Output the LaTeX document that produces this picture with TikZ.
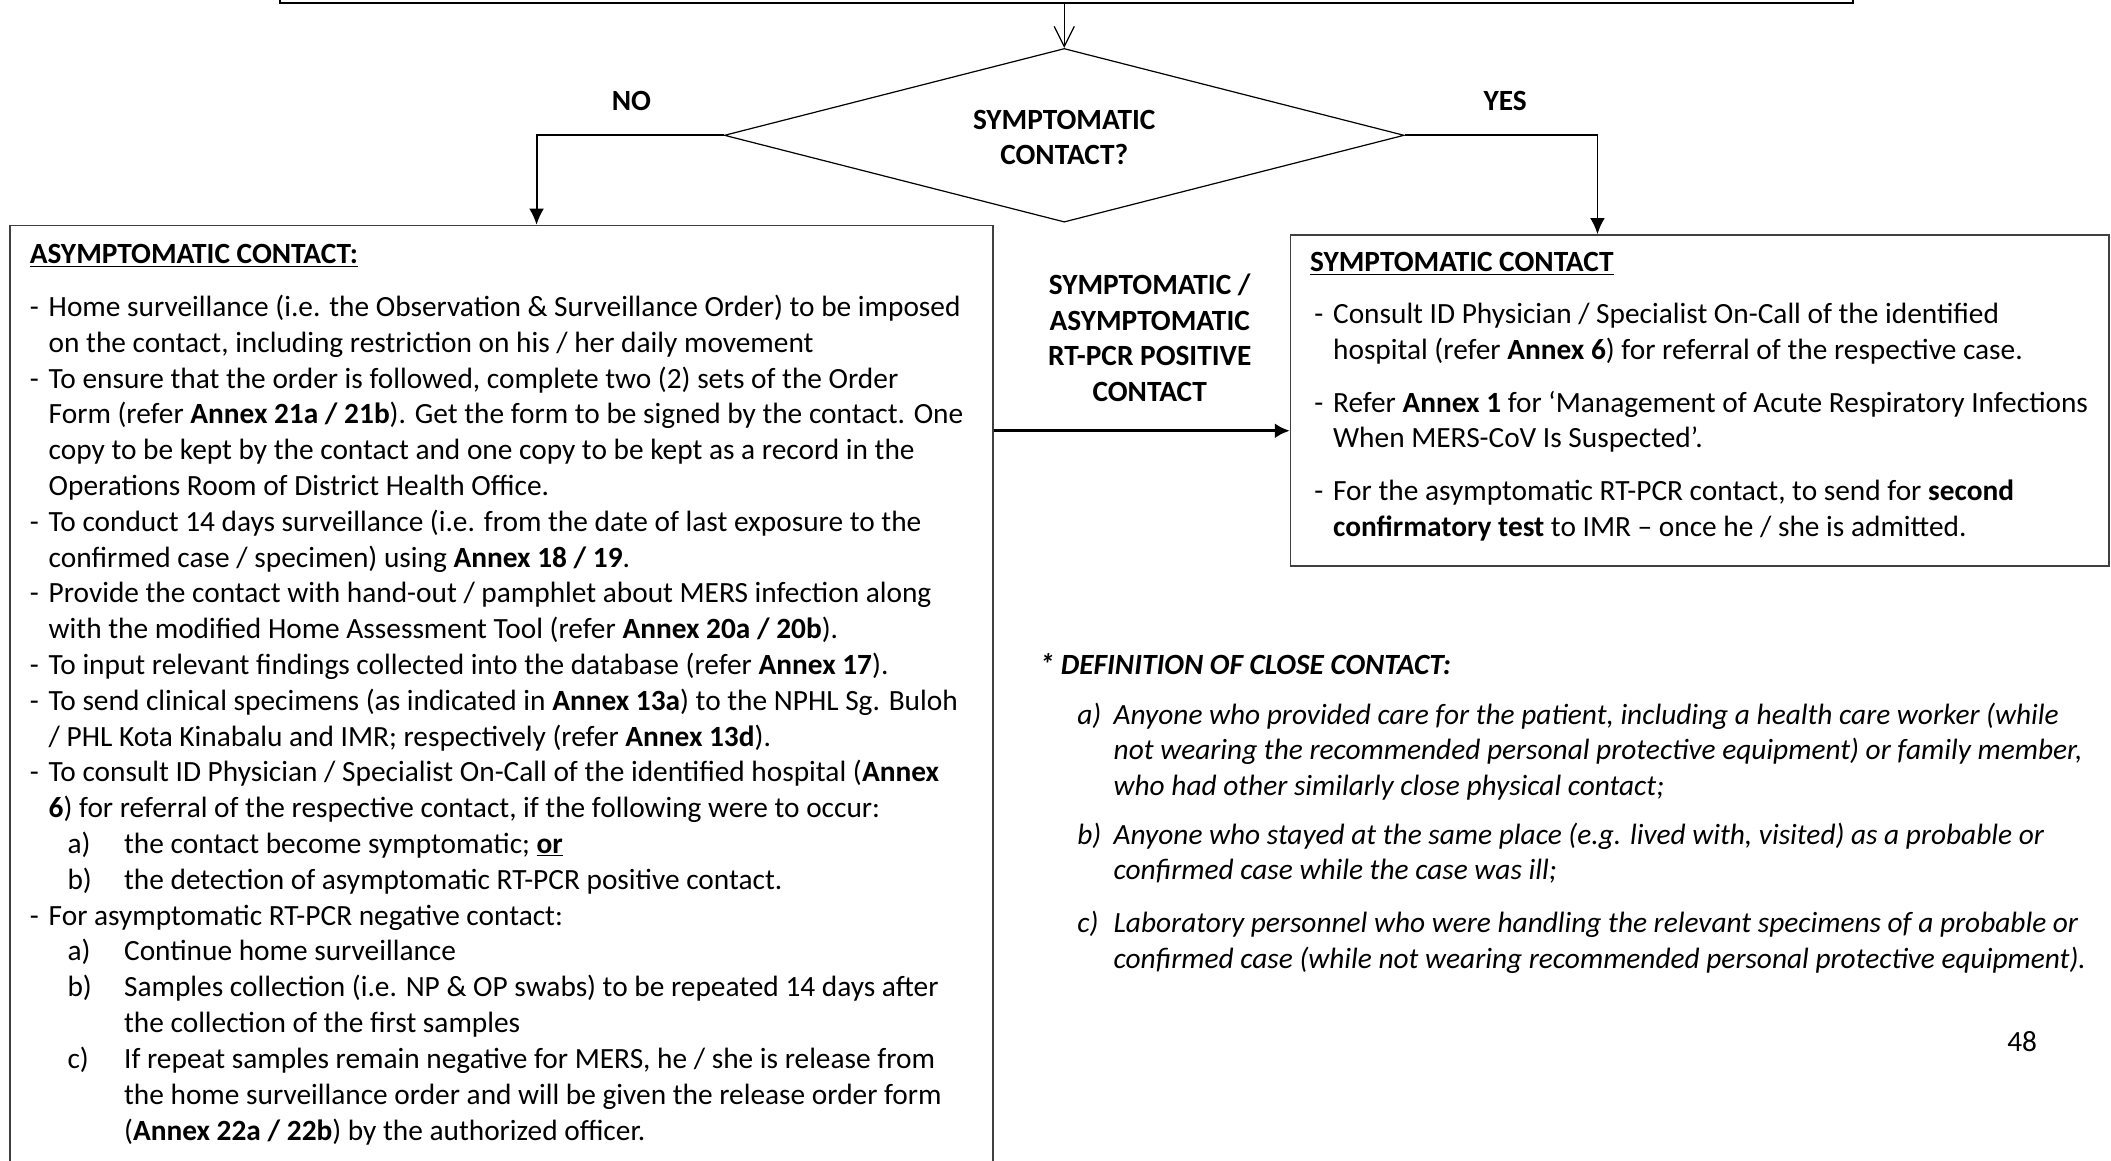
\documentclass[tikz,border=0pt]{standalone}
\usepackage{fontspec}
\setmainfont{Carlito}
\usetikzlibrary{shapes.geometric,arrows.meta}

% text sizes
\newcommand\bodyfont{\fontsize{21.8}{26.6}\selectfont}
\newcommand\defsfont{\fontsize{21.8}{26}\selectfont}
\newcommand\labelfont{\fontsize{21.8}{26}\selectfont\bfseries}
\newcommand\midfont{\fontsize{21.8}{26.5}\selectfont\bfseries}

% list helpers (lines are broken by hand; later lines hang under the text)
\newcommand\dashline[1]{\par\hangindent=14pt\hangafter=1\makebox[14pt][l]{-}#1}
\newcommand\letline[2]{\par\hangindent=70pt\hangafter=1\hspace*{28pt}\makebox[42pt][l]{#1}#2}
\newcommand\defline[2]{\par\hangindent=27pt\hangafter=1\makebox[27pt][l]{#1}#2}

\begin{document}
\begin{tikzpicture}[x=1pt,y=-1pt,
  boxframe/.style={draw=black!75, line width=1.1pt, inner sep=0pt},
  flowarrow/.style={line width=1.4pt, -{Latex[length=12pt,width=11pt]}},
  midarrow/.style={line width=2pt, -{Latex[length=11pt,width=11pt]}},
  toparrow/.style={line width=1.1pt, -{Straight Barb[length=15pt,width=15pt,line width=0.9pt]}},
  txt/.style={inner sep=0pt, font=\bodyfont}]

\useasboundingbox (0,0) rectangle (1568,862);
\clip (0,0) rectangle (1568,862);

% previous step (only its lower edge lies on the page)
\node[draw, line width=1.5pt, minimum width=1168pt, minimum height=80pt,
      anchor=south, inner sep=0pt] (topbox) at (792,3) {};

% decision
\node[diamond, draw, line width=0.9pt, aspect=3.9, minimum width=505pt,
      minimum height=129pt, inner sep=0pt] (dec) at (790.5,100.5) {};
\node[align=center, font=\labelfont, inner sep=0pt] (dectext) at (790.5,102) {SYMPTOMATIC\\CONTACT?};
\node[font=\labelfont, inner sep=0pt] (nolabel) at (469,75) {NO};
\node[font=\labelfont, inner sep=0pt] (yeslabel) at (1118,75) {YES};

% outcome boxes
\node[boxframe, minimum width=730pt, minimum height=730pt, anchor=north west] (asymbox) at (7,167) {};
\node[boxframe, minimum width=608pt, minimum height=246pt, anchor=north west] (symbox) at (958,174) {};

% connectors
\draw[toparrow] (dec.north |- topbox.south) -- (dec.north);
\draw[flowarrow] (dec.west) -| ([xshift=26pt]asymbox.north);
\draw[flowarrow] (dec.east) -| ([xshift=-76pt]symbox.north);
\coordinate (midtip) at ([yshift=-22.4pt]symbox.west);
\draw[midarrow] (asymbox.east |- midtip) -- (midtip);

\node[align=center, font=\midfont, inner sep=0pt] (poslabel) at (854,251)
  {SYMPTOMATIC /\\ASYMPTOMATIC\\RT-PCR POSITIVE\\CONTACT};

% asymptomatic contact
\node[txt, anchor=base west] (asymtitle) at (22,196) {\textbf{\underline{ASYMPTOMATIC CONTACT:}}};
\node[txt, anchor=base west] (asymlist) at (22,235) {\begin{minipage}[t]{760pt}\bodyfont\parindent=0pt
\dashline{Home surveillance (i.e. the Observation \& Surveillance Order) to be imposed\\
on the contact, including restriction on his / her daily movement}
\dashline{To ensure that the order is followed, complete two (2) sets of the Order\\
Form (refer \textbf{Annex 21a / 21b}). Get the form to be signed by the contact. One\\
copy to be kept by the contact and one copy to be kept as a record in the\\
Operations Room of District Health Office.}
\dashline{To conduct 14 days surveillance (i.e. from the date of last exposure to the\\
confirmed case / specimen) using \textbf{Annex 18 / 19}.}
\dashline{Provide the contact with hand-out / pamphlet about MERS infection along\\
with the modified Home Assessment Tool (refer \textbf{Annex 20a / 20b}).}
\dashline{To input relevant findings collected into the database (refer \textbf{Annex 17}).}
\dashline{To send clinical specimens (as indicated in \textbf{Annex 13a}) to the NPHL Sg. Buloh\\
/ PHL Kota Kinabalu and IMR; respectively (refer \textbf{Annex 13d}).}
\dashline{To consult ID Physician / Specialist On-Call of the identified hospital (\textbf{Annex}\\
\textbf{6}) for referral of the respective contact, if the following were to occur:}
\letline{a)}{the contact become symptomatic; \textbf{\underline{or}}}
\letline{b)}{the detection of asymptomatic RT-PCR positive contact.}
\dashline{For asymptomatic RT-PCR negative contact:}
\letline{a)}{Continue home surveillance}
\letline{b)}{Samples collection (i.e. NP \& OP swabs) to be repeated 14 days after\\
the collection of the first samples}
\letline{c)}{If repeat samples remain negative for MERS, he / she is release from\\
the home surveillance order and will be given the release order form\\
(\textbf{Annex 22a / 22b}) by the authorized officer.}
\par\end{minipage}};

% symptomatic contact
\node[txt, anchor=base west] (symtitle) at (973,202) {\textbf{\underline{SYMPTOMATIC CONTACT}}};
\node[txt, anchor=base west] (symlist) at (976,240.5) {\begin{minipage}[t]{640pt}\bodyfont\parindent=0pt\parskip=12.4pt
\dashline{Consult ID Physician / Specialist On-Call of the identified\\
hospital (refer \textbf{Annex 6}) for referral of the respective case.}
\dashline{Refer \textbf{Annex 1} for ‘Management of Acute Respiratory Infections\\
When MERS-CoV Is Suspected’.}
\dashline{For the asymptomatic RT-PCR contact, to send for \textbf{second}\\
\textbf{confirmatory test} to IMR – once he / she is admitted.}
\par\end{minipage}};

% definition of close contact
\node[txt, anchor=base west] (deftitle) at (772,501) {\textbf{\textit{* DEFINITION OF CLOSE CONTACT:}}};
\node[txt, anchor=base west] (deflist) at (800,538.5) {\begin{minipage}[t]{760pt}\defsfont\itshape\parindent=0pt\parskip=11pt
\defline{a)}{Anyone who provided care for the patient, including a health care worker (while\\
not wearing the recommended personal protective equipment) or family member,\\
who had other similarly close physical contact;}
\defline{b)}{Anyone who stayed at the same place (e.g. lived with, visited) as a probable or\\
confirmed case while the case was ill;}
\par\vspace{2.5pt}
\defline{c)}{Laboratory personnel who were handling the relevant specimens of a probable or\\
confirmed case (while not wearing recommended personal protective equipment).}
\par\end{minipage}};

\node[txt] (pagenum) at (1502,774) {48};
\end{tikzpicture}
\end{document}
